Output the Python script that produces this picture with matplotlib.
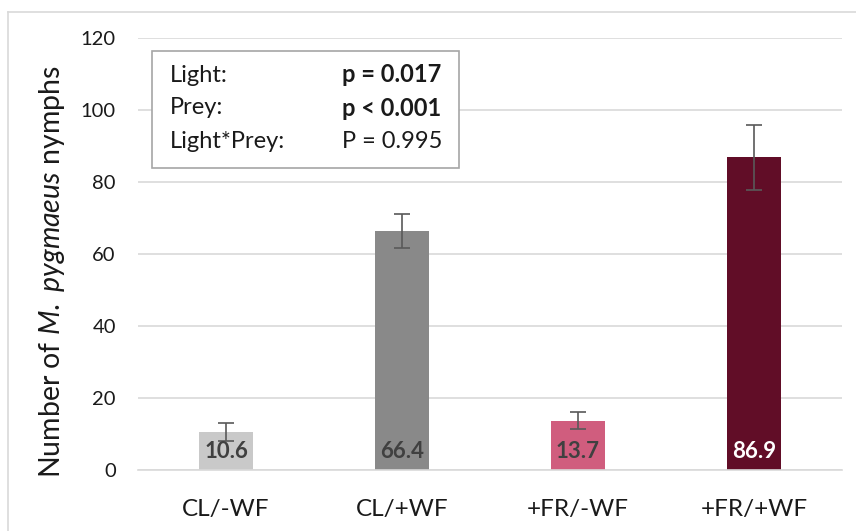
import matplotlib
matplotlib.use('agg')
from matplotlib import pyplot as plt
from matplotlib.lines import Line2D

categories = ['CL/-WF', 'CL/+WF', '+FR/-WF', '+FR/+WF']
means = [10.6, 66.4, 13.7, 86.9]
errors = [2.5, 4.8, 2.3, 9.0]
bar_colors = ['#c9c9c9', '#898989', '#d05d7e', '#610d27']
label_colors = ['#404040', '#404040', '#404040', '#ffffff']

stat_terms = ['Light:', 'Prey:', 'Light*Prey:']
stat_values = ['p = 0.017', 'p < 0.001', 'P = 0.995']
stat_bold = [True, True, False]

plt.rcParams['font.family'] = ['Lato', 'DejaVu Sans']
plt.rcParams['mathtext.fontset'] = 'custom'
plt.rcParams['mathtext.it'] = 'Lato:italic'
plt.rcParams['mathtext.rm'] = 'Lato'

fig = plt.figure(figsize=(8.56, 5.31), dpi=100)
ax = fig.add_axes([138 / 856, 1 - 470 / 531, 704 / 856, 432 / 531])

x = list(range(len(categories)))
ax.bar(x, means, width=0.31, color=bar_colors, zorder=2)
ax.errorbar(x, means, yerr=errors, fmt='none', ecolor='#595959', elinewidth=1.2,
            capsize=6, capthick=1.2, zorder=3)

for i, v in enumerate(means):
    ax.text(i, 5.0, '%.1f' % v, ha='center', va='center', fontsize=16,
            fontweight='bold', color=label_colors[i], zorder=4)

ax.set_xlim(-0.5, len(categories) - 0.5)
ax.set_ylim(0, 120)
ax.set_yticks(range(0, 121, 20))
ax.set_xticks(x)
ax.set_xticklabels(categories)
ax.tick_params(axis='both', length=0, colors='#1a1a1a')
ax.tick_params(axis='y', pad=16, labelsize=14.5)
ax.tick_params(axis='x', pad=21, labelsize=17.5)
ax.grid(axis='y', color='#d9d9d9', linewidth=1.2, zorder=0)
ax.set_axisbelow(True)
for s in ['top', 'right', 'left']:
    ax.spines[s].set_visible(False)
ax.spines['bottom'].set_color('#d9d9d9')
ax.spines['bottom'].set_linewidth(1.2)

fig.text(52 / 856, 1 - 272 / 531, r'Number of $\mathit{M.\ pygmaeus}$ nymphs',
         rotation=90, ha='center', va='center', fontsize=20.5, color='#1a1a1a')

# stats box
box = plt.Rectangle((152 / 856, 1 - 168 / 531), 307 / 856, 117 / 531,
                    transform=fig.transFigure, facecolor='white',
                    edgecolor='#a6a6a6', linewidth=1.2, zorder=5)
fig.add_artist(box)
rows_y = [75, 108, 141]
for term, val, bold, yy in zip(stat_terms, stat_values, stat_bold, rows_y):
    fig.text(170 / 856, 1 - yy / 531, term, ha='left', va='center', fontsize=17,
             color='#1a1a1a', zorder=6)
    fig.text(342 / 856, 1 - yy / 531, val, ha='left', va='center', fontsize=17,
             fontweight='bold' if bold else 'normal', color='#1a1a1a', zorder=6)

# chart border (cropped)
fig.add_artist(Line2D([8 / 856, 8 / 856], [0, 1 - 12 / 531], color='#d9d9d9', lw=1.2))
fig.add_artist(Line2D([8 / 856, 1], [1 - 12 / 531, 1 - 12 / 531], color='#d9d9d9', lw=1.2))

fig.savefig('out.png', dpi=100)
